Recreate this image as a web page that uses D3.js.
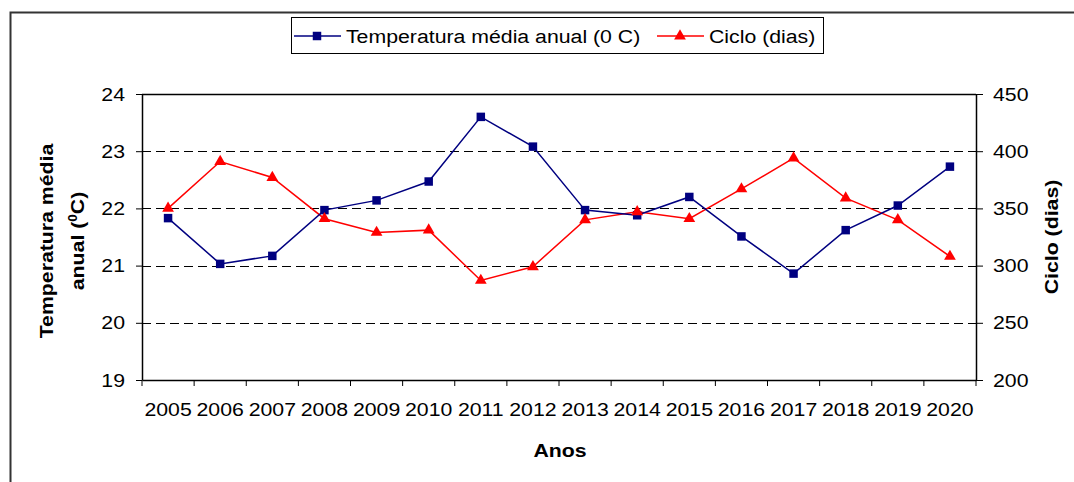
<!DOCTYPE html>
<html>
<head>
<meta charset="utf-8">
<script src="https://cdn.jsdelivr.net/npm/d3@7"></script>
<style>
  body { margin: 0; background: #fff; }
  text { font-family: "Liberation Sans", Arial, sans-serif; fill: #000; }
</style>
</head>
<body>
<div id="chart"></div>
<script>
// data
var years = ["2005", "2006", "2007", "2008", "2009", "2010", "2011", "2012",
             "2013", "2014", "2015", "2016", "2017", "2018", "2019", "2020"];
var temperatura = [21.83, 21.03, 21.17, 21.97, 22.14, 22.47, 23.60, 23.08,
                   21.97, 21.88, 22.20, 21.51, 20.86, 21.62, 22.05, 22.73];
var ciclo = [350, 391, 377, 341, 329, 331, 287, 299,
             340, 347, 341, 367, 394, 359, 340, 308];
var tempTicks = [19, 20, 21, 22, 23, 24];
var cicloTicks = [200, 250, 300, 350, 400, 450];
var legendLabels = ["Temperatura média anual (0 C)", "Ciclo (dias)"];

var W = 1074, H = 482;
var m = { left: 142, right: 976, top: 94, bottom: 380 };
var STRETCH = 1.12; // the original text is a bit wider than Arial

var svg = d3.select("#chart").append("svg")
    .attr("width", W)
    .attr("height", H);

// widen a text along its own direction, keeping its anchor in place
var stretch = function(sel) {
    sel.each(function() {
        var t = d3.select(this);
        var ax = +t.attr("x") || 0;
        var prev = t.attr("transform") || "";
        t.attr("transform", prev + " translate(" + ax + ",0) scale(" + STRETCH + ",1) translate(" + (-ax) + ",0)");
    });
};

// outer frame (only top and left edges are visible)
svg.append("path")
    .attr("d", "M10.5," + H + "V12.5H" + W)
    .attr("fill", "none")
    .attr("stroke", "#333")
    .attr("stroke-width", 2);

var x = d3.scaleBand().domain(years).range([m.left, m.right]);
var yL = d3.scaleLinear().domain([19, 24]).range([m.bottom, m.top]);
var yR = d3.scaleLinear().domain([200, 450]).range([m.bottom, m.top]);

// dashed grid lines
svg.append("g").selectAll("line")
    .data(tempTicks.slice(1, -1))
    .enter().append("line")
    .attr("x1", m.left).attr("x2", m.right)
    .attr("y1", function(d) { return Math.round(yL(d)) + 0.5; })
    .attr("y2", function(d) { return Math.round(yL(d)) + 0.5; })
    .attr("stroke", "#000")
    .attr("stroke-width", 1)
    .attr("stroke-dasharray", "9,5");

// plot box top edge
svg.append("line")
    .attr("x1", m.left).attr("x2", m.right)
    .attr("y1", m.top + 0.5).attr("y2", m.top + 0.5)
    .attr("stroke", "#000").attr("stroke-width", 1.5);

var tickFont = function(g) {
    g.select(".domain").attr("stroke", "#000").attr("stroke-width", 1.5);
    g.selectAll(".tick line").attr("stroke", "#000");
    g.selectAll(".tick text")
        .style("font-family", "'Liberation Sans', Arial, sans-serif")
        .style("font-size", "19px")
        .attr("fill", "#000")
        .call(stretch);
};

// left axis
svg.append("g")
    .attr("transform", "translate(" + m.left + ",0)")
    .call(d3.axisLeft(yL).tickValues(tempTicks).tickFormat(d3.format("d"))
        .tickSize(6).tickPadding(11).tickSizeOuter(0))
    .call(tickFont);

// right axis
svg.append("g")
    .attr("transform", "translate(" + m.right + ",0)")
    .call(d3.axisRight(yR).tickValues(cicloTicks).tickFormat(d3.format("d"))
        .tickSize(7).tickPadding(10).tickSizeOuter(0))
    .call(tickFont);

// bottom axis: labels at centres, ticks on the band boundaries
var xg = svg.append("g")
    .attr("transform", "translate(0," + m.bottom + ")")
    .call(d3.axisBottom(x).tickSize(0).tickPadding(23).tickSizeOuter(0))
    .call(tickFont);

xg.selectAll(".edge")
    .data(years.concat(["end"]))
    .enter().append("line")
    .attr("class", "edge")
    .attr("x1", function(d, i) { return i < years.length ? x(d) : x.range()[1]; })
    .attr("x2", function(d, i) { return i < years.length ? x(d) : x.range()[1]; })
    .attr("y1", 0).attr("y2", 6)
    .attr("stroke", "#000");

// series
var cx = function(d, i) { return x(years[i]) + x.bandwidth() / 2; };

var tempLine = d3.line()
    .x(cx)
    .y(function(d) { return yL(d); });
var cicloLine = d3.line()
    .x(cx)
    .y(function(d) { return yR(d); });

svg.append("path")
    .datum(ciclo)
    .attr("d", cicloLine)
    .attr("fill", "none")
    .attr("stroke", "#ff0000")
    .attr("stroke-width", 1.5);

svg.append("path")
    .datum(temperatura)
    .attr("d", tempLine)
    .attr("fill", "none")
    .attr("stroke", "#000080")
    .attr("stroke-width", 1.5);

var square = d3.symbol().type(d3.symbolSquare).size(72);
var triangle = d3.symbol().type(d3.symbolTriangle).size(60);

svg.append("g").selectAll("path")
    .data(temperatura)
    .enter().append("path")
    .attr("d", square)
    .attr("transform", function(d, i) { return "translate(" + cx(d, i) + "," + yL(d) + ")"; })
    .attr("fill", "#000080");

svg.append("g").selectAll("path")
    .data(ciclo)
    .enter().append("path")
    .attr("d", triangle)
    .attr("transform", function(d, i) { return "translate(" + cx(d, i) + "," + yR(d) + ")"; })
    .attr("fill", "#ff0000");

// axis titles
svg.append("text")
    .attr("transform", "translate(" + ((m.left + m.right) / 2 + 1) + ",457)")
    .attr("text-anchor", "middle")
    .style("font-size", "19px")
    .style("font-weight", "bold")
    .text("Anos")
    .call(stretch);

var lt = svg.append("text")
    .attr("transform", "translate(53,241) rotate(-90)")
    .attr("text-anchor", "middle")
    .style("font-size", "19px")
    .style("font-weight", "bold");
lt.append("tspan").attr("x", 0).attr("dy", 0).text("Temperatura média");
var l2 = lt.append("tspan").attr("x", 0).attr("dy", 31).text("anual (");
l2.append("tspan").attr("dy", -7).style("font-size", "12px").text("0");
l2.append("tspan").attr("dy", 7).text("C)");
lt.call(stretch);

svg.append("text")
    .attr("transform", "translate(1058,237) rotate(-90)")
    .attr("text-anchor", "middle")
    .style("font-size", "19px")
    .style("font-weight", "bold")
    .text("Ciclo (dias)")
    .call(stretch);

// legend
var legend = svg.append("g");
legend.append("rect")
    .attr("x", 291.5).attr("y", 17.5)
    .attr("width", 532).attr("height", 36)
    .attr("fill", "#fff")
    .attr("stroke", "#000")
    .attr("stroke-width", 1);

var legendItems = [
    { label: legendLabels[0], color: "#000080", sym: square, x0: 294 },
    { label: legendLabels[1], color: "#ff0000", sym: triangle, x0: 657 }
];
var li = legend.selectAll(".item")
    .data(legendItems)
    .enter().append("g")
    .attr("class", "item")
    .attr("transform", function(d) { return "translate(" + d.x0 + ",36)"; });
li.append("line")
    .attr("x1", 0).attr("x2", 47)
    .attr("stroke", function(d) { return d.color; })
    .attr("stroke-width", 1.5);
li.append("path")
    .attr("d", function(d) { return d.sym(); })
    .attr("transform", "translate(23,0)")
    .attr("fill", function(d) { return d.color; });
li.append("text")
    .attr("x", 52)
    .attr("y", 7)
    .style("font-size", "19px")
    .text(function(d) { return d.label; })
    .call(stretch);
</script>
</body>
</html>
